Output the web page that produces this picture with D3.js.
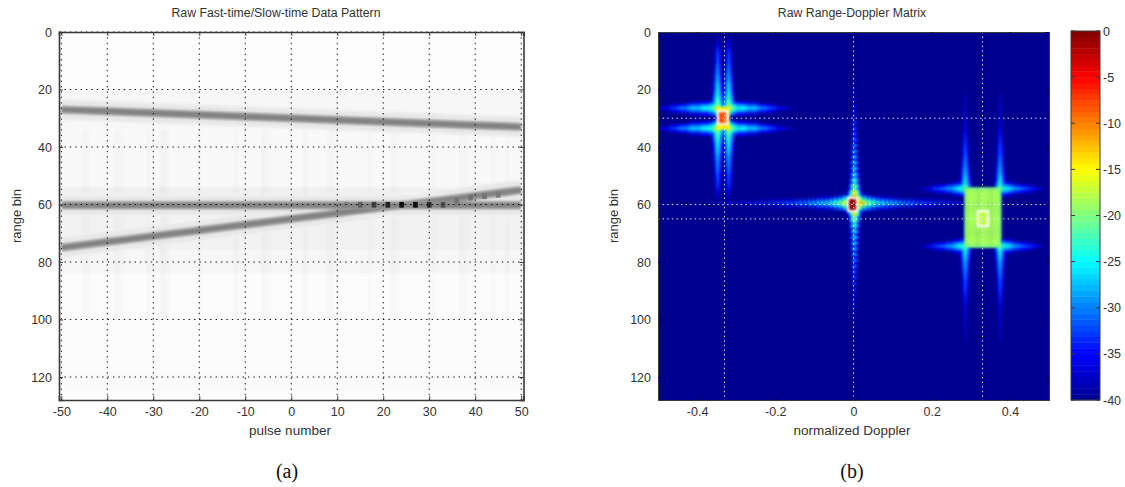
<!DOCTYPE html>
<html lang="en">
<head>
<meta charset="UTF-8">
<script src="https://d3js.org/d3.v7.min.js"></script>
<title>Raw data pattern and range-Doppler matrix</title>
<style>
    body { margin: 0; background: #fff; }
    text { font-family: "Liberation Sans", Arial, sans-serif; fill: #333; }
</style>
</head>
<body>
<svg id="fig" width="1125" height="487"></svg>
<script>
    var width = 1125, height = 487;

    // --- left panel: fast-time / slow-time pattern
    var pulseTicks = [-50, -40, -30, -20, -10, 0, 10, 20, 30, 40, 50];
    var rangeTicks = [0, 20, 40, 60, 80, 100, 120];
    var track1 = [27, 27.6, 28.2, 28.8, 29.4, 30, 30.6, 31.2, 31.8, 32.4, 33];
    var track2 = [75, 73, 71, 69, 67, 65, 63, 61, 59, 57, 55];
    var track3 = [60.3, 60.3, 60.3, 60.3, 60.3, 60.3, 60.3, 60.3, 60.3, 60.3, 60.3];

    // darker cells where the moving track passes the fixed one
    var crossPulses = [12, 15, 18, 21, 24, 27, 30, 33, 36, 39, 42, 45];
    var crossRanges = [60, 60, 60, 60, 60, 60, 60, 60, 58.5, 57.5, 57, 56.5];
    var crossLevels = [0.5, 0.62, 0.74, 0.86, 0.94, 0.94, 0.82, 0.68, 0.55, 0.56, 0.54, 0.52];

    // faint background bands: first row, last row, level
    var bandStart = [0, 20, 34, 54, 62, 76, 84, 118];
    var bandEnd = [20, 34, 54, 59, 76, 84, 118, 125];
    var bandLevel = [0.008, 0.03, 0.025, 0.06, 0.05, 0.035, 0.012, 0.02];

    // faint vertical streaks: pulse, level
    var streakPulses = [-45, -44, -38, -37, -31, -28, -27, -20, -12, -6, -5, 3, 8, 9, 17, 22, 23, 31, 37, 38, 44, 47];
    var streakLevels = [0.02, 0.015, 0.025, 0.015, 0.02, 0.03, 0.02, 0.015, 0.02, 0.025, 0.015, 0.02, 0.015, 0.02, 0.015, 0.02, 0.015, 0.015, 0.02, 0.015, 0.015, 0.02];

    // --- right panel: range-Doppler matrix, levels in dB
    var dopplerTicks = [-0.4, -0.2, 0, 0.2, 0.4];
    var colorTicks = [0, -5, -10, -15, -20, -25, -30, -35, -40];
    var gridDoppler = [-0.33, 0, 0.33];
    var gridRange = [30, 60, 65];

    // two spread targets, each a plateau with streaks leaving from its edges
    var plateauDopLo = [-0.349, 0.288];
    var plateauDopHi = [-0.319, 0.377];
    var plateauRowLo = [26, 54];
    var plateauRowHi = [33, 74];
    var plateauLevel = [-13.5, -18.5];
    var plateauEdge = [-15, -20];
    var sideLobesA = [-18, -21, -23, -24, -25, -25, -25, -26, -27, -27, -27, -27, -28, -29, -30, -30, -30, -31, -32, -33, -33, -34, -35, -36, -36, -37, -38, -38, -39, -39];
    var sideLobesC = [-23, -24, -25, -26, -27, -28, -29, -29, -30, -31, -31, -32, -33, -33, -34, -35, -36, -37, -38, -39];
    var riseLobesA = [-19, -21, -22, -23, -24, -25, -26, -26, -27, -28, -28, -29, -29, -30, -30, -31, -31, -32, -32, -33, -34, -35, -36, -37, -39];
    var riseLobesC = [-22, -24, -25, -26, -27, -28, -28, -29, -29, -30, -30, -31, -31, -32, -32, -33, -33, -34, -34, -35, -35, -36, -36, -36, -37, -37, -37, -37, -38, -38, -38, -38, -39];
    var lobeProfile = [0, -4, -10, -18];

    // the fixed target, comb shaped lobes along both axes (one lobe per 2 bins)
    var fixedDoppler = 0;
    var fixedRow = 59;
    var combAlongDoppler = [-7, -11, -15, -18, -20, -22, -23, -24, -25, -26, -27, -28, -28, -29, -30, -30, -31, -31, -32, -32, -33, -33, -34, -34, -35, -35, -35, -36, -36, -37, -37, -38, -38, -39];
    var combAlongRange = [-7, -14, -18, -21, -23, -24, -25, -26, -27, -28, -29, -30, -31, -32, -33, -34, -35, -36, -37, -38];
    var combDepth = -7;
    var combProfile = [0, -5, -12, -22];

    // peak contours: low and high edge on each axis, level inside
    var contourDopLo = [-0.347, -0.014, 0.318];
    var contourDopHi = [-0.323, 0.009, 0.344];
    var contourRowLo = [27.5, 57.7, 62.3];
    var contourRowHi = [32, 62.3, 67.5];
    var contourLevel = [-8, -1, -17.5];

    var rowCount = 128, dopplerBins = 180;

    var svg = d3.select('#fig');
    var defs = svg.append('defs');

    function panelAxes(g, x, y, xTicks, yTicks, xFormat, bw) {
        var x0 = x.range()[0], x1 = x.range()[1], y0 = y.range()[0], y1 = y.range()[1];
        var pieces = [
            [d3.axisBottom(x).tickValues(xTicks).tickFormat(xFormat).tickSize(-4).tickPadding(7), [0, y1], true],
            [d3.axisLeft(y).tickValues(yTicks).tickFormat(String).tickSize(-4).tickPadding(7), [x0, 0], true],
            [d3.axisTop(x).tickValues(xTicks).tickSize(-4), [0, y0], false],
            [d3.axisRight(y).tickValues(yTicks).tickSize(-4), [x1, 0], false]
        ];
        pieces.forEach(function(p) {
            var a = g.append('g').attr('transform', 'translate(' + p[1] + ')').call(p[0]);
            a.selectAll('path').attr('stroke', '#3a3a3a').attr('stroke-width', bw);
            a.selectAll('line').attr('stroke', '#3a3a3a');
            if (p[2]) {
                a.selectAll('text').attr('font-size', 12.5).attr('font-family', null).style('fill', '#333');
            } else {
                a.selectAll('text').remove();
            }
        });
    }

    // ---------- left panel
    var xL = d3.scaleLinear().domain([-50.5, 50.5]).range([59, 523.5]);
    var yL = d3.scaleLinear().domain([0, 128]).range([32, 400]);
    var gray = d3.scaleLinear().domain([0, 1]).range(['#ffffff', '#000000']);

    defs.append('clipPath').attr('id', 'clipL').append('rect')
        .attr('x', 59).attr('y', 32).attr('width', 464.5).attr('height', 368);

    var left = svg.append('g').attr('id', 'left');
    var clipL = left.append('g').attr('clip-path', 'url(#clipL)');
    var imgL = clipL.append('g').style('filter', 'blur(0.8px)');

    imgL.selectAll('rect.band').data(bandStart).join('rect')
        .attr('class', 'band')
        .attr('x', xL(-50.5) - 5).attr('width', xL(50.5) - xL(-50.5) + 10)
        .attr('y', function(d) { return yL(d); })
        .attr('height', function(d, i) { return yL(bandEnd[i]) - yL(d); })
        .attr('fill', function(d, i) { return gray(bandLevel[i]); });

    imgL.selectAll('rect.streak').data(streakPulses).join('rect')
        .attr('class', 'streak')
        .attr('x', function(d) { return xL(d - 0.5); })
        .attr('width', xL(1) - xL(0))
        .attr('y', yL(34)).attr('height', yL(100) - yL(34))
        .attr('fill', '#000')
        .attr('opacity', function(d, i) { return streakLevels[i]; });

    var trackLine = function(offset) {
        return d3.line()
            .x(function(d, i) { return xL(pulseTicks[i]); })
            .y(function(d) { return yL(d + offset); });
    };

    // soft halo, light strips either side, then the track itself
    [track1, track2, track3].forEach(function(track) {
        imgL.append('path').attr('d', trackLine(0)(track)).attr('fill', 'none')
            .attr('stroke', gray(0.09)).attr('stroke-width', 22);
        [-3.6, 3.6].forEach(function(off) {
            imgL.append('path').attr('d', trackLine(off)(track)).attr('fill', 'none')
                .attr('stroke', '#ffffff').attr('stroke-width', 1.6).attr('opacity', 0.5);
        });
    });
    [track1, track2, track3].forEach(function(track) {
        imgL.append('path').attr('d', trackLine(0)(track)).attr('fill', 'none')
            .attr('stroke', gray(0.4)).attr('stroke-width', 8);
        imgL.append('path').attr('d', trackLine(0)(track)).attr('fill', 'none')
            .attr('stroke', gray(0.5)).attr('stroke-width', 4);
    });

    clipL.append('g').style('filter', 'blur(0.35px)')
        .selectAll('rect.cross').data(crossPulses).join('rect')
        .attr('class', 'cross')
        .attr('x', function(d) { return xL(d - 0.5); })
        .attr('width', xL(1) - xL(0))
        .attr('y', function(d, i) { return yL(crossRanges[i] - 0.9); })
        .attr('height', yL(2) - yL(0))
        .attr('fill', function(d, i) { return gray(crossLevels[i]); });

    // dotted grid
    left.selectAll('line.gx').data(pulseTicks).join('line')
        .attr('class', 'gx')
        .attr('x1', function(d) { return xL(d); }).attr('x2', function(d) { return xL(d); })
        .attr('y1', yL(0)).attr('y2', yL(128))
        .attr('stroke', '#111').attr('stroke-dasharray', '1.4,4');
    left.selectAll('line.gy').data(rangeTicks).join('line')
        .attr('class', 'gy')
        .attr('y1', function(d) { return yL(d); }).attr('y2', function(d) { return yL(d); })
        .attr('x1', xL(-50.5)).attr('x2', xL(50.5))
        .attr('stroke', '#111').attr('stroke-dasharray', '1.4,4');

    panelAxes(left, xL, yL, pulseTicks, rangeTicks, String, 1.6);

    // ---------- right panel
    var xR = d3.scaleLinear().domain([-0.5, 0.5]).range([658, 1049]);
    var yR = d3.scaleLinear().domain([0, 128]).range([32, 400]);
    var jetStops = [-40, -35, -25, -15, -5, 0];
    var jetColors = ['#00008f', '#0000ff', '#00ffff', '#ffff00', '#ff0000', '#800000'];
    var jet = d3.scaleLinear().domain(jetStops).range(jetColors).clamp(true);

    var binOf = function(d) { return Math.round((d + 0.5) * dopplerBins - 0.5); };

    var matrix = d3.range(rowCount).map(function() {
        return d3.range(dopplerBins).map(function() { return -40; });
    });
    var put = function(r, c, v) {
        if (r >= 0 && r < rowCount && c >= 0 && c < dopplerBins && v > matrix[r][c]) {
            matrix[r][c] = v;
        }
    };

    // spread targets
    [[sideLobesA, riseLobesA], [sideLobesC, riseLobesC]].forEach(function(lobes, t) {
        var c0 = binOf(plateauDopLo[t]), c1 = binOf(plateauDopHi[t]);
        var r0 = plateauRowLo[t], r1 = plateauRowHi[t];
        for (var r = r0; r <= r1; r++) {
            for (var c = c0; c <= c1; c++) {
                var edge = r === r0 || r === r1 || c === c0 || c === c1;
                put(r, c, edge ? plateauEdge[t] : plateauLevel[t]);
            }
        }
        lobes[0].forEach(function(v, k) {
            lobeProfile.forEach(function(drop, p) {
                [r0, r1].forEach(function(r) {
                    [r - p, r + p].forEach(function(rr) {
                        put(rr, c0 - 1 - k, v + drop);
                        put(rr, c1 + 1 + k, v + drop);
                    });
                });
            });
        });
        lobes[1].forEach(function(v, k) {
            lobeProfile.forEach(function(drop, p) {
                [c0, c1].forEach(function(c) {
                    [c - p, c + p].forEach(function(cc) {
                        put(r0 - 1 - k, cc, v + drop);
                        put(r1 + 1 + k, cc, v + drop);
                    });
                });
            });
        });
    });

    // fixed target combs
    var cFixed = binOf(fixedDoppler);
    combAlongDoppler.forEach(function(v, i) {
        combProfile.forEach(function(drop, p) {
            [fixedRow - p, fixedRow + p].forEach(function(r) {
                put(r, cFixed - (2 * i + 1), v + drop);
                put(r, cFixed + (2 * i + 1), v + drop);
                put(r, cFixed - (2 * i + 2), v + drop + combDepth);
                put(r, cFixed + (2 * i + 2), v + drop + combDepth);
            });
        });
    });
    combAlongRange.forEach(function(v, i) {
        combProfile.forEach(function(drop, p) {
            [cFixed - p, cFixed + p].forEach(function(c) {
                put(fixedRow - (2 * i + 2), c, v + drop);
                put(fixedRow + (2 * i + 2), c, v + drop);
                put(fixedRow - (2 * i + 3), c, v + drop + combDepth);
                put(fixedRow + (2 * i + 3), c, v + drop + combDepth);
            });
        });
    });

    var cells = [];
    matrix.forEach(function(row, r) {
        row.forEach(function(v, c) {
            if (v > -39.8) cells.push({ r: r, c: c, v: v });
        });
    });

    defs.append('clipPath').attr('id', 'clipR').append('rect')
        .attr('x', 658).attr('y', 32).attr('width', 391).attr('height', 368);

    var right = svg.append('g').attr('id', 'right');
    var imgR = right.append('g').attr('clip-path', 'url(#clipR)')
        .append('g').style('filter', 'blur(0.8px)');

    imgR.append('rect')
        .attr('x', 640).attr('y', 14).attr('width', 430).attr('height', 404)
        .attr('fill', jet(-40));

    var binW = xR(1 / dopplerBins) - xR(0), rowH = yR(1) - yR(0);
    imgR.selectAll('rect.cell').data(cells).join('rect')
        .attr('class', 'cell')
        .attr('x', function(d) { return xR(-0.5 + d.c / dopplerBins); })
        .attr('y', function(d) { return yR(d.r); })
        .attr('width', binW + 0.3)
        .attr('height', rowH + 0.3)
        .attr('fill', function(d) { return jet(d.v); });

    imgR.selectAll('rect.core').data(contourLevel).join('rect')
        .attr('class', 'core')
        .attr('x', function(d, i) { return xR(contourDopLo[i]); })
        .attr('y', function(d, i) { return yR(contourRowLo[i]); })
        .attr('width', function(d, i) { return xR(contourDopHi[i]) - xR(contourDopLo[i]); })
        .attr('height', function(d, i) { return yR(contourRowHi[i]) - yR(contourRowLo[i]); })
        .attr('fill', function(d) { return jet(d); })
        .attr('stroke', '#ffffff').attr('stroke-width', 2.2);

    right.selectAll('line.gx').data(gridDoppler).join('line')
        .attr('class', 'gx')
        .attr('x1', function(d) { return xR(d); }).attr('x2', function(d) { return xR(d); })
        .attr('y1', yR(0)).attr('y2', yR(128))
        .attr('stroke', '#e8eeff').attr('stroke-dasharray', '1.4,3.2');
    right.selectAll('line.gy').data(gridRange).join('line')
        .attr('class', 'gy')
        .attr('y1', function(d) { return yR(d); }).attr('y2', function(d) { return yR(d); })
        .attr('x1', xR(-0.5)).attr('x2', xR(0.5))
        .attr('stroke', '#e8eeff').attr('stroke-dasharray', '1.4,3.2');

    panelAxes(right, xR, yR, dopplerTicks, rangeTicks, String, 1);
    right.selectAll('g.tick line').attr('stroke', '#00005a');

    // ---------- colour bar
    var yC = d3.scaleLinear().domain([0, -40]).range([31, 400]);
    var barSteps = d3.range(64);
    var bar = svg.append('g').attr('id', 'colorbar');
    bar.selectAll('rect').data(barSteps).join('rect')
        .attr('x', 1071).attr('width', 29)
        .attr('y', function(d) { return yC(-40 + (d + 1) * 40 / 64); })
        .attr('height', (yC(-40) - yC(0)) / 64 + 0.4)
        .attr('fill', function(d) { return jet(-40 + (d + 0.5) * 40 / 64); });
    bar.append('rect').attr('x', 1071).attr('y', 31).attr('width', 29).attr('height', 369)
        .attr('fill', 'none').attr('stroke', '#3a3a3a');
    var barAxis = bar.append('g').attr('transform', 'translate(1100,0)')
        .call(d3.axisRight(yC).tickValues(colorTicks).tickFormat(String).tickSize(0).tickPadding(3));
    barAxis.select('path').remove();
    barAxis.selectAll('text').attr('font-size', 12.5).attr('font-family', null).style('fill', '#333');
    bar.selectAll('line.t1').data(colorTicks).join('line')
        .attr('class', 't1')
        .attr('x1', 1071).attr('x2', 1075)
        .attr('y1', function(d) { return yC(d); }).attr('y2', function(d) { return yC(d); })
        .attr('stroke', '#3a3a3a');
    bar.selectAll('line.t2').data(colorTicks).join('line')
        .attr('class', 't2')
        .attr('x1', 1096).attr('x2', 1100)
        .attr('y1', function(d) { return yC(d); }).attr('y2', function(d) { return yC(d); })
        .attr('stroke', '#3a3a3a');

    // ---------- titles and labels
    var label = function(txt, x, y, size, rotate) {
        var t = svg.append('text').attr('text-anchor', 'middle').attr('font-size', size).text(txt);
        if (rotate) {
            t.attr('transform', 'translate(' + x + ',' + y + ') rotate(-90)');
        } else {
            t.attr('x', x).attr('y', y);
        }
        return t;
    };
    label('Raw Fast-time/Slow-time Data Pattern', 276, 17, 12.3);
    label('Raw Range-Doppler Matrix', 852, 17, 12.3);
    label('pulse number', 290, 435, 13.5);
    label('normalized Doppler', 852, 435, 13.5);
    label('range bin', 21, 216, 13, true);
    label('range bin', 618, 216, 13, true);
    label('(a)', 287, 478, 20).style('font-family', '"Liberation Serif", "Times New Roman", serif').style('fill', '#111');
    label('(b)', 852, 478, 20).style('font-family', '"Liberation Serif", "Times New Roman", serif').style('fill', '#111');
</script>
</body>
</html>
